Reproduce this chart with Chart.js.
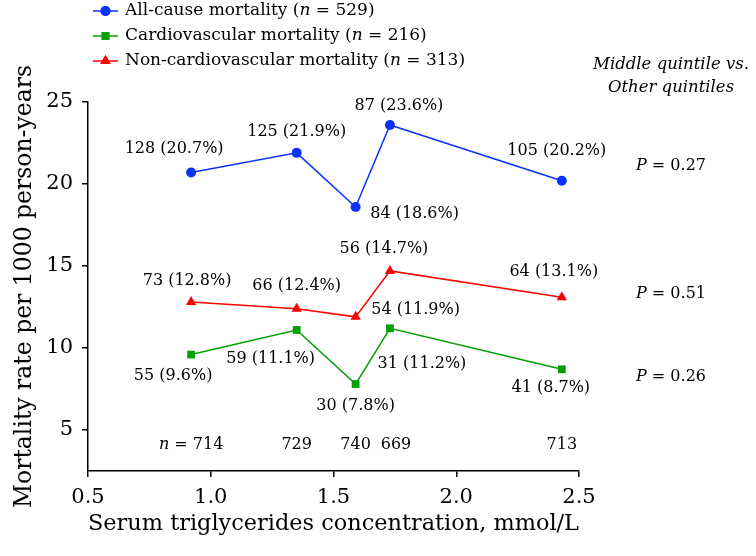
<!DOCTYPE html>
<html><head><meta charset="utf-8">
<script src="https://cdn.jsdelivr.net/npm/chart.js@4.4.1/dist/chart.umd.min.js"></script>
<style>html,body{margin:0;padding:0;background:#fff;}#wrap{width:756px;height:556px;}</style>
</head><body><div id="wrap"><canvas id="c" width="756" height="556"></canvas></div>
<script>
// ---- data ----
const tgConcentration = [0.92, 1.35, 1.59, 1.73, 2.43];
const allCauseRate = [20.7, 21.9, 18.6, 23.6, 20.2];
const cardioRate = [9.6, 11.1, 7.8, 11.2, 8.7];
const nonCardioRate = [12.8, 12.4, 11.9, 14.7, 13.1];
const allCauseDeaths = [128, 125, 84, 87, 105];
const cardioDeaths = [55, 59, 30, 31, 41];
const nonCardioDeaths = [73, 66, 54, 56, 64];
const quintileN = [714, 729, 740, 669, 713];
const seriesNames = ['All-cause mortality', 'Cardiovascular mortality', 'Non-cardiovascular mortality'];
const seriesTotals = [529, 216, 313];
const seriesP = ['0.27', '0.26', '0.51'];
const xTicks = [0.5, 1.0, 1.5, 2.0, 2.5];
const yTicks = [5, 10, 15, 20, 25];
const xTitle = 'Serum triglycerides concentration, mmol/L';
const yTitle = 'Mortality rate per 1000 person-years';
const pHeader = ['Middle quintile vs.', 'Other quintiles'];

// ---- styling / placement (not data) ----
const FONT = '"DejaVu Serif", serif';
const colors = ['#0a32ff', '#00a000', '#ff0000'];
const pointStyles = ['circle', 'rect', 'triangle'];
const pointRadii = [5, 5.5, 6];
const labelOffsets = [
  [[-17,-24],[0,-21],[59,7],[9,-19],[-5,-30]],
  [[-18,21],[-26,29],[0,22],[32,36],[-11,19]],
  [[-4,-21],[0,-23],[60,-7],[-6,-22],[-8,-25]]
];
const nLabelDx = [0,0,0,6,0];
const nLabelY = 445;
const pLabelY = [166, 377, 294];
const pLabelX = 671;

const rates = [allCauseRate, cardioRate, nonCardioRate];
const deaths = [allCauseDeaths, cardioDeaths, nonCardioDeaths];

function richWidth(ctx, parts, size) {
  let w = 0;
  for (const p of parts) { ctx.font = (p.i ? 'italic ' : '') + size + 'px ' + FONT; w += ctx.measureText(p.t).width; }
  return w;
}
function drawRich(ctx, parts, x, y, size, align) {
  const w = richWidth(ctx, parts, size);
  let cx = align === 'center' ? x - w / 2 : x;
  ctx.textAlign = 'left'; ctx.textBaseline = 'middle'; ctx.fillStyle = '#000';
  for (const p of parts) {
    ctx.font = (p.i ? 'italic ' : '') + size + 'px ' + FONT;
    ctx.fillText(p.t, cx, y);
    cx += ctx.measureText(p.t).width;
  }
}

const annot = {
  id: 'annot',
  afterDatasetsDraw(chart) {
    const ctx = chart.ctx, xs = chart.scales.x, ys = chart.scales.y;
    ctx.save();
    rates.forEach((arr, s) => {
      arr.forEach((v, i) => {
        const px = xs.getPixelForValue(tgConcentration[i]);
        const py = ys.getPixelForValue(v);
        const [dx, dy] = labelOffsets[s][i];
        drawRich(ctx, [{t: deaths[s][i] + ' (' + v.toFixed(1) + '%)'}], px + dx, py + dy, 16, 'center');
      });
    });
    quintileN.forEach((n, i) => {
      const px = xs.getPixelForValue(tgConcentration[i]) + nLabelDx[i];
      const parts = i === 0 ? [{t:'n', i:true}, {t:' = ' + n}] : [{t: String(n)}];
      drawRich(ctx, parts, px, nLabelY, 16, 'center');
    });
    drawRich(ctx, [{t: pHeader[0], i:true}], pLabelX, 65, 16.5, 'center');
    drawRich(ctx, [{t: pHeader[1], i:true}], pLabelX, 88, 16.5, 'center');
    seriesP.forEach((p, s) => {
      drawRich(ctx, [{t:'P', i:true}, {t:' = ' + p}], pLabelX, pLabelY[s], 16, 'center');
    });
    const rowY = [11, 36, 61];
    seriesNames.forEach((name, s) => {
      const y = rowY[s];
      ctx.strokeStyle = colors[s]; ctx.lineWidth = 1.5;
      ctx.beginPath(); ctx.moveTo(93, y); ctx.lineTo(118, y); ctx.stroke();
      ctx.fillStyle = colors[s];
      Chart.helpers.drawPoint(ctx, {pointStyle: pointStyles[s], radius: pointRadii[s], rotation: 0, borderWidth: 0}, 105.5, y);
      ctx.fill();
      drawRich(ctx, [{t: name + ' ('}, {t:'n', i:true}, {t: ' = ' + seriesTotals[s] + ')'}], 125, y, 17, 'left');
    });
    ctx.restore();
  }
};

const datasets = [0, 2, 1].map(s => ({
  label: seriesNames[s],
  data: tgConcentration.map((x, i) => ({x, y: rates[s][i]})),
  borderColor: colors[s],
  backgroundColor: colors[s],
  borderWidth: 1.5,
  pointStyle: pointStyles[s],
  pointRadius: pointRadii[s],
  pointBorderWidth: 0,
  pointBackgroundColor: colors[s],
  tension: 0
}));

new Chart(document.getElementById('c'), {
  type: 'line',
  data: { datasets },
  options: {
    responsive: false,
    animation: false,
    events: [],
    layout: { padding: { left: 0, right: 177, top: 102, bottom: 0 } },
    plugins: { legend: { display: false }, tooltip: { enabled: false } },
    scales: {
      x: {
        type: 'linear', min: 0.5, max: 2.5,
        afterBuildTicks: sc => { sc.ticks = xTicks.map(v => ({value: v})); },
        afterFit: sc => { sc.height = 85; },
        ticks: { callback: v => v.toFixed(1), font: {family: FONT, size: 21}, color: '#000', padding: 8, maxRotation: 0 },
        grid: { drawOnChartArea: false, drawTicks: true, tickLength: 6, color: '#000', lineWidth: 1.5 },
        border: { color: '#000', width: 1.5 },
        title: { display: true, text: xTitle, font: {family: FONT, size: 23}, color: '#000', padding: {top: 0, bottom: 18} }
      },
      y: {
        type: 'linear', min: 2.5, max: 25,
        afterBuildTicks: sc => { sc.ticks = yTicks.map(v => ({value: v})); },
        afterFit: sc => { sc.width = 88; },
        ticks: { font: {family: FONT, size: 21}, color: '#000', padding: 9 },
        grid: { drawOnChartArea: false, drawTicks: true, tickLength: 6, color: '#000', lineWidth: 1.5 },
        border: { color: '#000', width: 1.5 },
        title: { display: true, text: yTitle, font: {family: FONT, size: 23.5}, color: '#000', padding: {top: 11, bottom: 0} }
      }
    }
  },
  plugins: [annot]
});
</script>
</body></html>
